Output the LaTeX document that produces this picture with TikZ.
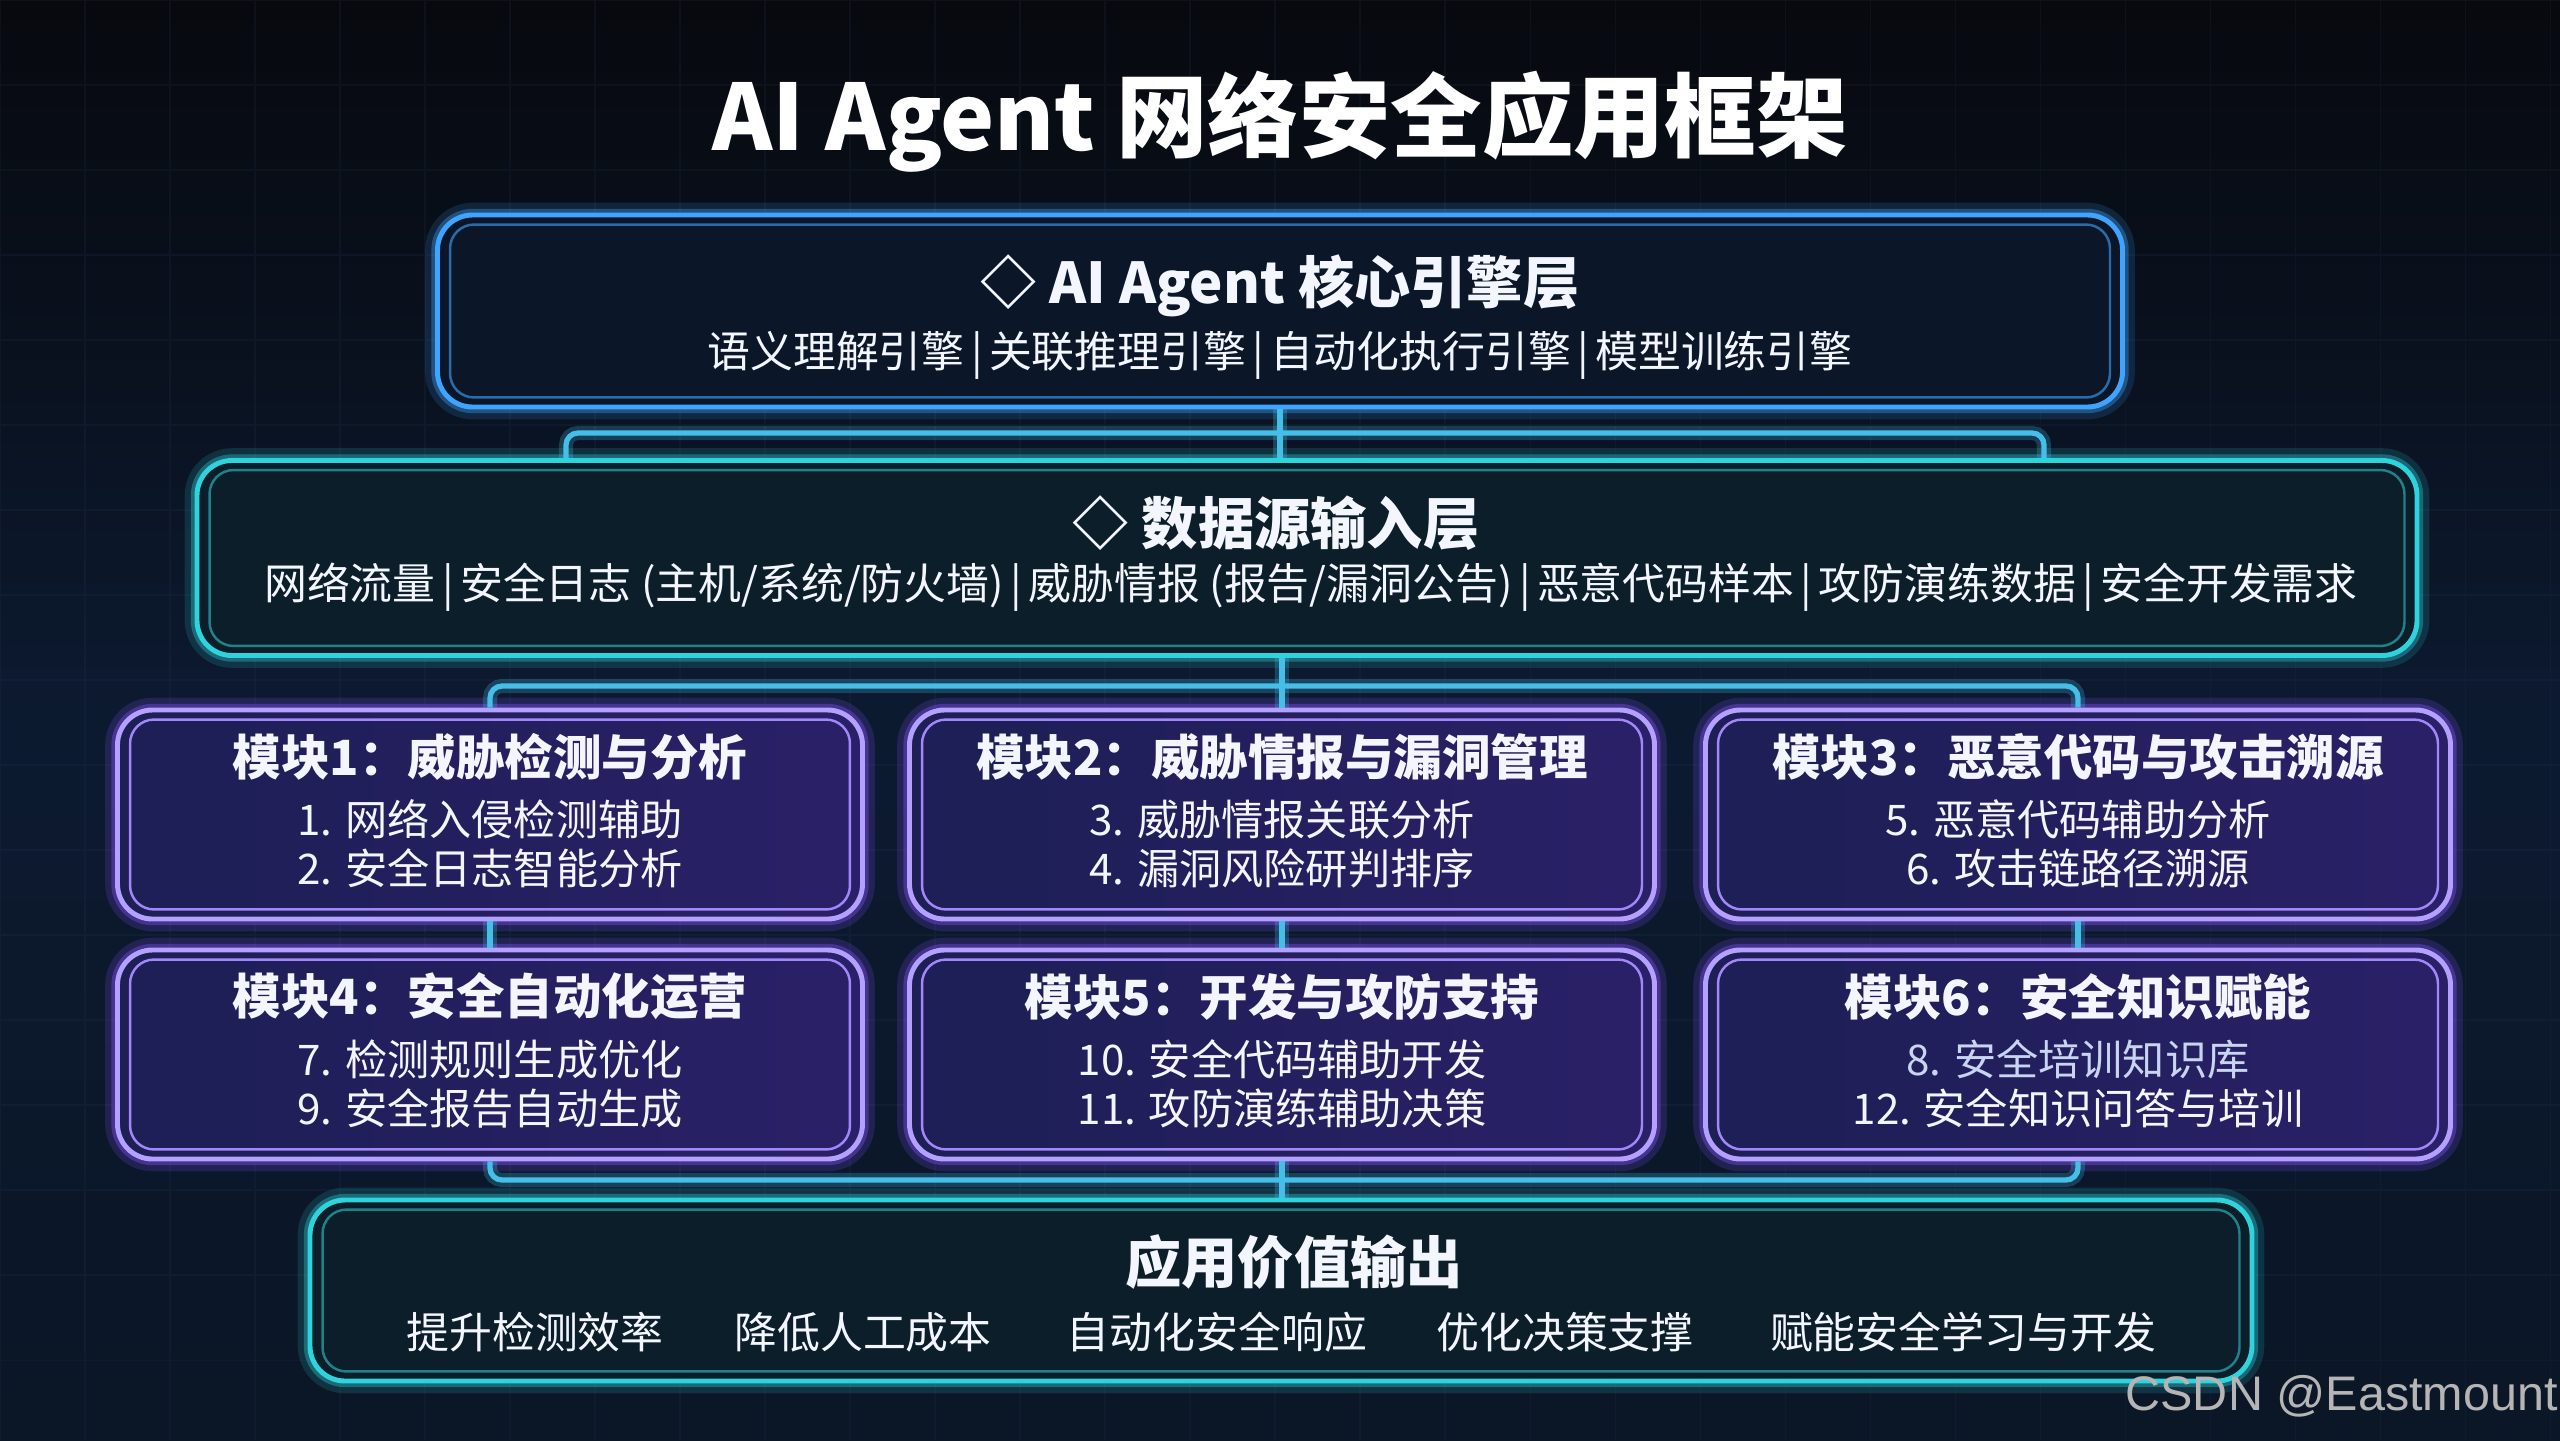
\documentclass[tikz,border=0pt]{standalone}
\usepackage{fontspec}
\setmainfont{Noto Sans CJK SC}
\newfontfamily\wmfont{Liberation Sans}
\usetikzlibrary{positioning, backgrounds}

\definecolor{bgtop}{HTML}{07090E}
\definecolor{bgmid}{HTML}{0C1A30}
\definecolor{bgbot}{HTML}{0B1626}
\definecolor{gridcol}{HTML}{2A4260}
\definecolor{coreline}{HTML}{3FA4FF}
\definecolor{corefill}{HTML}{0B1729}
\definecolor{dataline}{HTML}{2FD3DC}
\definecolor{datafill}{HTML}{0B1E29}
\definecolor{modline}{HTML}{B3A0FF}
\definecolor{modglow}{HTML}{7A4DF0}
\definecolor{modfillL}{HTML}{1D1F55}
\definecolor{modfillR}{HTML}{2A2068}
\definecolor{linkcol}{HTML}{45BEE8}
\definecolor{txt}{HTML}{F4F6FF}
\definecolor{garble}{HTML}{C8D4F0}
\definecolor{wmgray}{HTML}{B5B5B5}

\newcommand{\barsep}{\hspace{0.15em}|\hspace{0.15em}}
\newcommand{\frameinner}[2]{\draw[#2, rounded corners=0.24cm] ([shift={(0.15,0.12)}]#1.south west) rectangle ([shift={(-0.15,-0.12)}]#1.north east);}

\begin{document}
\begin{tikzpicture}
\tikzstyle{layer}=[rectangle, rounded corners=0.35cm, inner sep=0pt, line width=1.4pt]
\tikzstyle{corebox}=[layer, draw=coreline, fill=corefill, minimum width=16.85cm, minimum height=1.92cm,
  preaction={draw=coreline, line width=7pt, opacity=0.15}, preaction={draw=coreline, line width=3.5pt, opacity=0.35}]
\tikzstyle{databox}=[layer, draw=dataline, fill=datafill, minimum width=22.2cm, minimum height=1.95cm,
  preaction={draw=dataline, line width=7pt, opacity=0.15}, preaction={draw=dataline, line width=3.5pt, opacity=0.35}]
\tikzstyle{modbox}=[layer, draw=modline, left color=modfillL, right color=modfillR, minimum width=7.45cm, minimum height=2.09cm,
  preaction={draw=modglow, line width=7pt, opacity=0.2}, preaction={draw=modglow, line width=3.5pt, opacity=0.4}]
\tikzstyle{outbox}=[layer, draw=dataline, fill=datafill, minimum width=19.42cm, minimum height=1.81cm,
  preaction={draw=dataline, line width=7pt, opacity=0.15}, preaction={draw=dataline, line width=3.5pt, opacity=0.35}]
\tikzstyle{link}=[draw=linkcol, line width=1.5pt, rounded corners=0.12cm,
  preaction={draw=linkcol, line width=4pt, opacity=0.25}]
\tikzstyle{ttl}=[text=white, font=\fontsize{26}{30}\selectfont\bfseries]
\tikzstyle{hd}=[text=txt, font=\fontsize{16}{19}\selectfont\bfseries]
\tikzstyle{sub}=[text=txt, font=\fontsize{12.2}{14}\selectfont]
\tikzstyle{mh}=[text=txt, font=\fontsize{13.8}{16}\selectfont\bfseries]
\tikzstyle{mi}=[text=txt, font=\fontsize{12}{14}\selectfont]

\useasboundingbox (0,0) rectangle (25.6,-14.4);
\shade[top color=bgtop, bottom color=bgbot, middle color=bgmid] (0,0) rectangle (25.6,-14.4);
\draw[gridcol, line width=0.3pt, opacity=0.15, step=0.85] (0,-14.4) grid (25.6,0);

% layers
\node[corebox] (core) at (12.8,-3.11) {};
\node[databox] (data) at (13.07,-5.58) {};
\node[modbox] (m1) at (4.9,-8.145) {};
\node[modbox] (m2) at (12.82,-8.145) {};
\node[modbox] (m3) at (20.78,-8.145) {};
\node[modbox] (m4) at (4.9,-10.545) {};
\node[modbox] (m5) at (12.82,-10.545) {};
\node[modbox] (m6) at (20.78,-10.545) {};
\node[outbox] (out) at (12.81,-12.905) {};

\frameinner{core}{coreline!60!corefill, line width=0.7pt}
\frameinner{data}{dataline!55!datafill, line width=0.7pt}
\frameinner{m1}{modline!70!modglow, line width=0.7pt}
\frameinner{m2}{modline!70!modglow, line width=0.7pt}
\frameinner{m3}{modline!70!modglow, line width=0.7pt}
\frameinner{m4}{modline!70!modglow, line width=0.7pt}
\frameinner{m5}{modline!70!modglow, line width=0.7pt}
\frameinner{m6}{modline!70!modglow, line width=0.7pt}
\frameinner{out}{dataline!55!datafill, line width=0.7pt}

% connectors
\coordinate (cl) at (5.66,-4.33);
\coordinate (cr) at (20.44,-4.33);
\coordinate (dj) at (12.82,-6.86);
\coordinate (oj) at (12.82,-11.80);
\draw[link] (core.south) -- (core.south |- data.north);
\draw[link] (cl |- data.north) -- (cl) -- (cr) -- (cr |- data.north);
\draw[link] (m2.north |- data.south) -- (m2.north);
\draw[link] (m1.north) |- (dj) -| (m3.north);
\draw[link] (m1.south) -- (m4.north);
\draw[link] (m2.south) -- (m5.north);
\draw[link] (m3.south) -- (m6.north);
\draw[link] (m4.south) |- (oj) -| (m6.south);
\draw[link] (m5.south) -- (m5.south |- out.north);

% texts
\node[ttl] (title) at (12.8,-1.22) {AI Agent 网络安全应用框架};
\node[hd] (coreh) at (12.8,-2.86) {◇ AI Agent 核心引擎层};
\node[sub] (cores) at (12.8,-3.55) {语义理解引擎\barsep 关联推理引擎\barsep 自动化执行引擎\barsep 模型训练引擎};
\node[hd] (datah) at (12.76,-5.23) {◇ 数据源输入层};
\node[sub] (datas) at (13.11,-5.87) {网络流量\barsep 安全日志 (主机/系统/防火墙)\barsep 威胁情报 (报告/漏洞公告)\barsep 恶意代码样本\barsep 攻防演练数据\barsep 安全开发需求};

\node[mh] (m1h) at ([yshift=-0.49cm]m1.north) {模块1：威胁检测与分析};
\node[mi] (m1a) at ([yshift=-1.12cm]m1.north) {1. 网络入侵检测辅助};
\node[mi] (m1b) at ([yshift=-1.61cm]m1.north) {2. 安全日志智能分析};
\node[mh] (m2h) at ([yshift=-0.49cm]m2.north) {模块2：威胁情报与漏洞管理};
\node[mi] (m2a) at ([yshift=-1.12cm]m2.north) {3. 威胁情报关联分析};
\node[mi] (m2b) at ([yshift=-1.61cm]m2.north) {4. 漏洞风险研判排序};
\node[mh] (m3h) at ([yshift=-0.49cm]m3.north) {模块3：恶意代码与攻击溯源};
\node[mi] (m3a) at ([yshift=-1.12cm]m3.north) {5. 恶意代码辅助分析};
\node[mi] (m3b) at ([yshift=-1.61cm]m3.north) {6. 攻击链路径溯源};
\node[mh] (m4h) at ([yshift=-0.49cm]m4.north) {模块4：安全自动化运营};
\node[mi] (m4a) at ([yshift=-1.12cm]m4.north) {7. 检测规则生成优化};
\node[mi] (m4b) at ([yshift=-1.61cm]m4.north) {9. 安全报告自动生成};
\node[mh] (m5h) at ([yshift=-0.49cm]m5.north) {模块5：开发与攻防支持};
\node[mi] (m5a) at ([yshift=-1.12cm]m5.north) {10. 安全代码辅助开发};
\node[mi] (m5b) at ([yshift=-1.61cm]m5.north) {11. 攻防演练辅助决策};
\node[mh] (m6h) at ([yshift=-0.49cm]m6.north) {模块6：安全知识赋能};
\node[mi, text=garble] (m6a) at ([yshift=-1.12cm]m6.north) {8. 安全培训知识库};
\node[mi] (m6b) at ([yshift=-1.61cm]m6.north) {12. 安全知识问答与培训};

\node[hd] (outh) at (12.94,-12.62) {应用价值输出};
\node[sub] (o1) at (5.35,-13.32) {提升检测效率};
\node[sub] (o2) at (8.63,-13.32) {降低人工成本};
\node[sub] (o3) at (12.17,-13.32) {自动化安全响应};
\node[sub] (o4) at (15.65,-13.32) {优化决策支撑};
\node[sub] (o5) at (19.63,-13.32) {赋能安全学习与开发};

\node[anchor=east, text=wmgray, font=\wmfont\fontsize{13.8}{16}\selectfont] (wm) at (25.7,-13.96) {CSDN @Eastmount};
\end{tikzpicture}
\end{document}
